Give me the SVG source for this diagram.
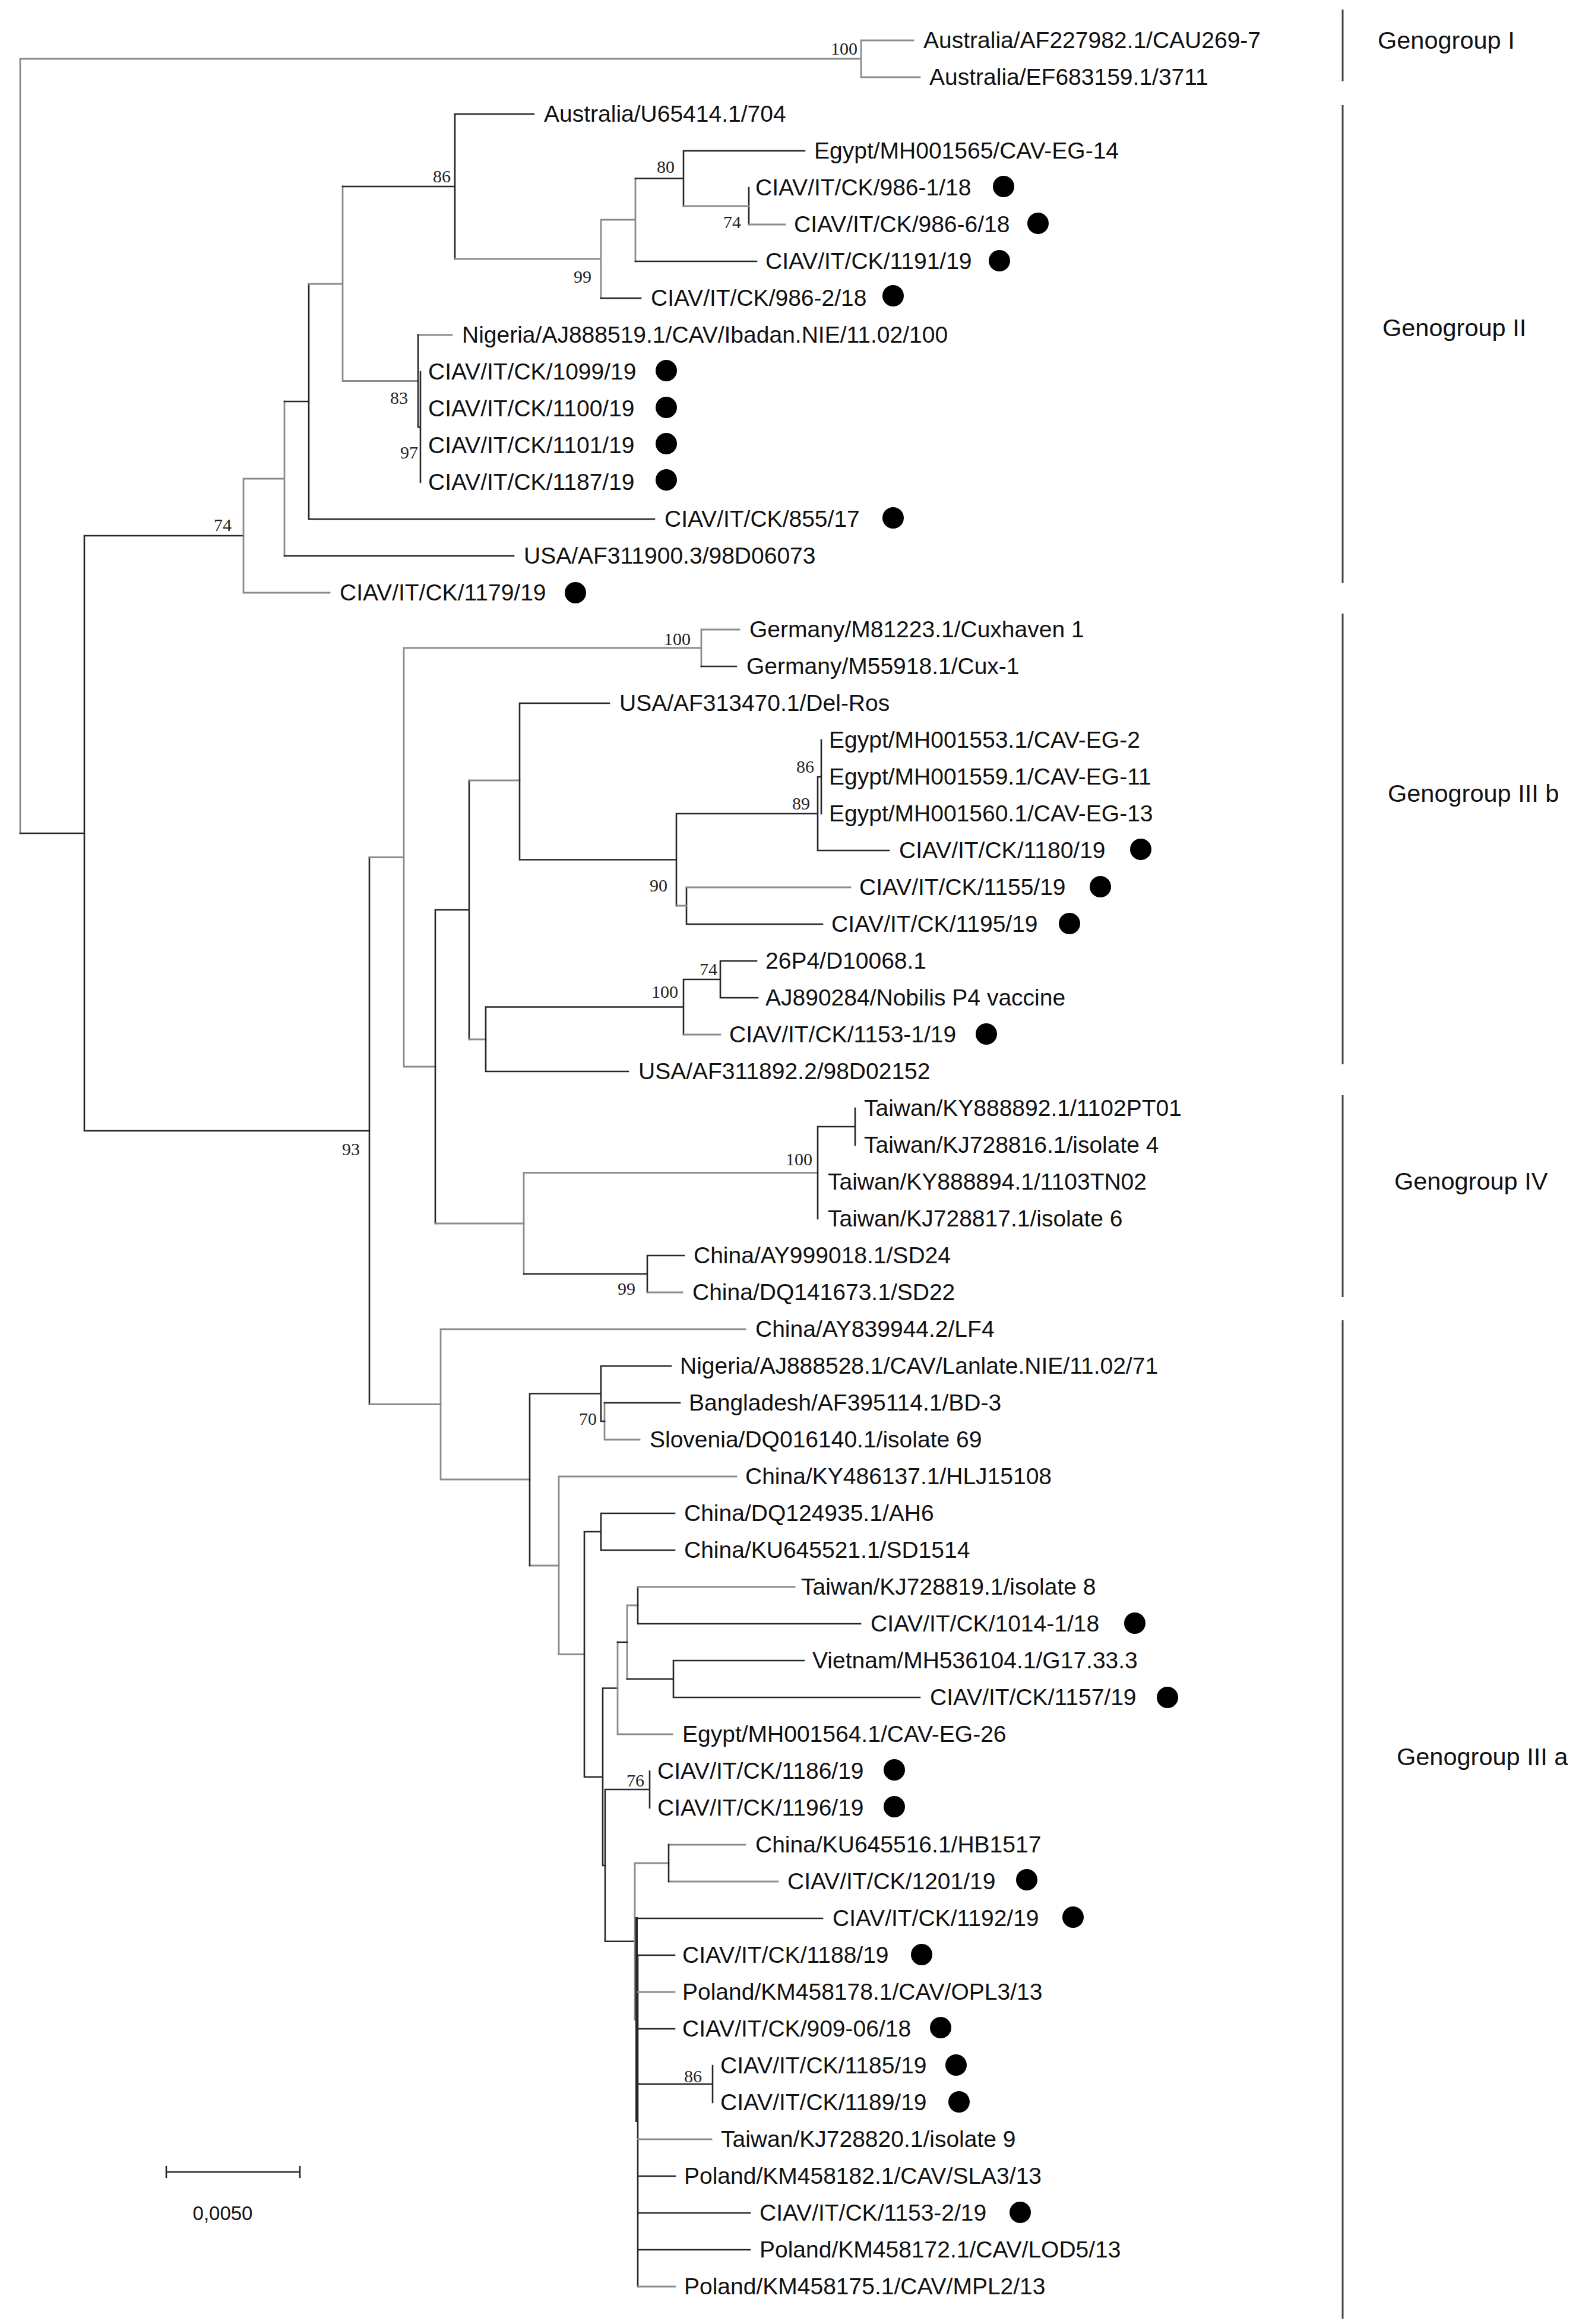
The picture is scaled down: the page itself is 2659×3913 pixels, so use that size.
<svg xmlns="http://www.w3.org/2000/svg" width="2659" height="3913" viewBox="0 0 2659 3913">
<style>
.k{stroke:#262626;stroke-width:2.6;fill:none;stroke-linecap:square}
.g{stroke:#8c8c8c;stroke-width:2.8;fill:none;stroke-linecap:square}
.bar{stroke:#444;stroke-width:3;fill:none}
.lb{font-family:"Liberation Sans",Arial,sans-serif;font-size:39px;fill:#111}
.gg{font-family:"Liberation Sans",Arial,sans-serif;font-size:41.5px;fill:#111}
.bs{font-family:"Liberation Serif","Times New Roman",serif;font-size:30px;fill:#222;text-anchor:end}
.dot{fill:#000}
</style>
<rect width="2659" height="3913" fill="#fff"/>
<g id="connectors">
<path class="g" d="M34 99V1403M34 99H1450M1450 68V130M1450 68H1538M1450 130H1549"/>
<path class="k" d="M34 1403H142M142 902V1904M142 902H410M142 1904H622"/>
<path class="g" d="M410 806V998M410 806H479M410 998H555M479 676V936"/>
<path class="k" d="M479 676H520M479 936H865M520 478V874M520 874H1102"/>
<path class="g" d="M520 478H577M577 314V641.5M577 641.5H704"/>
<path class="k" d="M577 314H766M766 192V436M766 192H899"/>
<path class="g" d="M766 436H1012M1012 370V502M1012 370H1070M1070 300.5V440"/>
<path class="k" d="M1012 502H1079M1070 440H1274M1070 300.5H1151M1151 254V347M1151 254H1355M1261 316V378"/>
<path class="g" d="M1151 347H1261M1261 378H1322M704 564H761"/>
<path class="k" d="M704 564V719M704 719H708M708 626V812"/>
<path class="k" d="M622 1443.5V2364.5"/>
<path class="g" d="M622 1443.5H680M622 2364.5H742M680 1091V1796M680 1091H1181M680 1796H733M1181 1060V1122M1181 1060H1245"/>
<path class="k" d="M1181 1122H1240M733 1532V2060M733 1532H790M790 1314V1750"/>
<path class="g" d="M733 2060H882M790 1314H875M790 1750H818"/>
<path class="k" d="M875 1184V1447.5M875 1184H1026M875 1447.5H1139M1139 1370V1525M1139 1370H1377M1377 1308V1432M1377 1308H1383M1377 1432H1497M1383 1246V1370M1156 1494V1556M1156 1556H1385"/>
<path class="g" d="M1139 1525H1156M1156 1494H1432"/>
<path class="k" d="M818 1695.5V1804M818 1695.5H1151M818 1804H1058M1151 1649V1742M1151 1649H1213M1213 1618V1680M1213 1618H1274M1213 1680H1276"/>
<path class="g" d="M1151 1742H1213M882 1974.5V2145M882 1974.5H1377"/>
<path class="k" d="M882 2145H1090M1377 1897V2052M1377 1897H1440M1440 1866V1928M1090 2114V2176M1090 2114H1152"/>
<path class="g" d="M1090 2176H1149"/>
<path class="g" d="M742 2238V2491M742 2238H1255M742 2491H892M892 2636H941M1018 2362V2424M1018 2424H1077"/>
<path class="k" d="M892 2346.5V2636M892 2346.5H1012M1012 2300V2393M1012 2300H1130M1012 2393H1018M1018 2362H1145"/>
<path class="g" d="M941 2486V2785.5M941 2486H1240M941 2785.5H984"/>
<path class="k" d="M984 2579V2992M984 2579H1012M984 2992H1015M1012 2548V2610M1012 2548H1136M1012 2610H1136M1015 2842.5V3141M1015 2842.5H1040M1015 3141H1019"/>
<path class="g" d="M1040 2765V2920M1040 2920H1132M1056 2703V2827M1056 2703H1074"/>
<path class="k" d="M1040 2765H1056M1056 2827H1134M1074 2672V2734M1074 2734H1449M1134 2796V2858M1134 2796H1354M1134 2858H1549"/>
<path class="g" d="M1074 2672H1338"/>
<path class="k" d="M1019 3013V3268.75M1019 3013H1094M1019 3268.75H1069M1094 2982V3044"/>
<path class="g" d="M1069 3137V3400.5M1069 3137H1126M1069 3400.5H1072M1126 3106H1255M1126 3168H1310"/>
<path class="k" d="M1126 3106V3168"/>
<path class="k" style="stroke-width:4" d="M1072 3230V3571"/>
<path class="k" d="M1072 3230H1385M1072 3571H1074M1074 3292V3850M1074 3292H1136M1074 3416H1136M1074 3509H1200M1200 3478V3540M1074 3664H1137M1074 3726H1263M1074 3788H1263"/>
<path class="g" d="M1074 3354H1136M1074 3602H1198M1074 3850H1137"/>
</g>
<g id="support">
<text class="bs" x="1444" y="92">100</text>
<text class="bs" x="759" y="307">86</text>
<text class="bs" x="1136" y="291">80</text>
<text class="bs" x="1248" y="384">74</text>
<text class="bs" x="996" y="476">99</text>
<text class="bs" x="687" y="680">83</text>
<text class="bs" x="704" y="772">97</text>
<text class="bs" x="390" y="894">74</text>
<text class="bs" x="606" y="1945">93</text>
<text class="bs" x="1163" y="1086">100</text>
<text class="bs" x="1371" y="1301">86</text>
<text class="bs" x="1364" y="1363">89</text>
<text class="bs" x="1124" y="1501">90</text>
<text class="bs" x="1208" y="1642">74</text>
<text class="bs" x="1142" y="1680">100</text>
<text class="bs" x="1368" y="1962">100</text>
<text class="bs" x="1070" y="2180">99</text>
<text class="bs" x="1005" y="2399">70</text>
<text class="bs" x="1085" y="3008">76</text>
<text class="bs" x="1182" y="3506">86</text>
</g>
<g id="leaf01"><text class="lb" x="1555" y="81">Australia/AF227982.1/CAU269-7</text></g>
<g id="leaf02"><text class="lb" x="1565" y="143">Australia/EF683159.1/3711</text></g>
<g id="leaf03"><text class="lb" x="916" y="205">Australia/U65414.1/704</text></g>
<g id="leaf04"><text class="lb" x="1371" y="267">Egypt/MH001565/CAV-EG-14</text></g>
<g id="leaf05"><text class="lb" x="1272" y="329">CIAV/IT/CK/986-1/18</text><circle class="dot" cx="1690" cy="314" r="18"/></g>
<g id="leaf06"><text class="lb" x="1337" y="391">CIAV/IT/CK/986-6/18</text><circle class="dot" cx="1748" cy="376" r="18"/></g>
<g id="leaf07"><text class="lb" x="1289" y="453">CIAV/IT/CK/1191/19</text><circle class="dot" cx="1683" cy="439" r="18"/></g>
<g id="leaf08"><text class="lb" x="1096" y="515">CIAV/IT/CK/986-2/18</text><circle class="dot" cx="1504" cy="498" r="18"/></g>
<g id="leaf09"><text class="lb" x="778" y="577">Nigeria/AJ888519.1/CAV/Ibadan.NIE/11.02/100</text></g>
<g id="leaf10"><text class="lb" x="721" y="639">CIAV/IT/CK/1099/19</text><circle class="dot" cx="1122" cy="624" r="18"/></g>
<g id="leaf11"><text class="lb" x="721" y="701">CIAV/IT/CK/1100/19</text><circle class="dot" cx="1122" cy="686" r="18"/></g>
<g id="leaf12"><text class="lb" x="721" y="763">CIAV/IT/CK/1101/19</text><circle class="dot" cx="1122" cy="747" r="18"/></g>
<g id="leaf13"><text class="lb" x="721" y="825">CIAV/IT/CK/1187/19</text><circle class="dot" cx="1122" cy="808" r="18"/></g>
<g id="leaf14"><text class="lb" x="1119" y="887">CIAV/IT/CK/855/17</text><circle class="dot" cx="1504" cy="872" r="18"/></g>
<g id="leaf15"><text class="lb" x="882" y="949">USA/AF311900.3/98D06073</text></g>
<g id="leaf16"><text class="lb" x="572" y="1011">CIAV/IT/CK/1179/19</text><circle class="dot" cx="969" cy="998" r="18"/></g>
<g id="leaf17"><text class="lb" x="1262" y="1073">Germany/M81223.1/Cuxhaven 1</text></g>
<g id="leaf18"><text class="lb" x="1257" y="1135">Germany/M55918.1/Cux-1</text></g>
<g id="leaf19"><text class="lb" x="1043" y="1197">USA/AF313470.1/Del-Ros</text></g>
<g id="leaf20"><text class="lb" x="1396" y="1259">Egypt/MH001553.1/CAV-EG-2</text></g>
<g id="leaf21"><text class="lb" x="1396" y="1321">Egypt/MH001559.1/CAV-EG-11</text></g>
<g id="leaf22"><text class="lb" x="1396" y="1383">Egypt/MH001560.1/CAV-EG-13</text></g>
<g id="leaf23"><text class="lb" x="1514" y="1445">CIAV/IT/CK/1180/19</text><circle class="dot" cx="1921" cy="1430" r="18"/></g>
<g id="leaf24"><text class="lb" x="1447" y="1507">CIAV/IT/CK/1155/19</text><circle class="dot" cx="1853" cy="1493" r="18"/></g>
<g id="leaf25"><text class="lb" x="1400" y="1569">CIAV/IT/CK/1195/19</text><circle class="dot" cx="1801" cy="1555" r="18"/></g>
<g id="leaf26"><text class="lb" x="1289" y="1631">26P4/D10068.1</text></g>
<g id="leaf27"><text class="lb" x="1289" y="1693">AJ890284/Nobilis P4 vaccine</text></g>
<g id="leaf28"><text class="lb" x="1228" y="1755">CIAV/IT/CK/1153-1/19</text><circle class="dot" cx="1661" cy="1741" r="18"/></g>
<g id="leaf29"><text class="lb" x="1075" y="1817">USA/AF311892.2/98D02152</text></g>
<g id="leaf30"><text class="lb" x="1455" y="1879">Taiwan/KY888892.1/1102PT01</text></g>
<g id="leaf31"><text class="lb" x="1455" y="1941">Taiwan/KJ728816.1/isolate 4</text></g>
<g id="leaf32"><text class="lb" x="1394" y="2003">Taiwan/KY888894.1/1103TN02</text></g>
<g id="leaf33"><text class="lb" x="1394" y="2065">Taiwan/KJ728817.1/isolate 6</text></g>
<g id="leaf34"><text class="lb" x="1168" y="2127">China/AY999018.1/SD24</text></g>
<g id="leaf35"><text class="lb" x="1166" y="2189">China/DQ141673.1/SD22</text></g>
<g id="leaf36"><text class="lb" x="1272" y="2251">China/AY839944.2/LF4</text></g>
<g id="leaf37"><text class="lb" x="1145" y="2313">Nigeria/AJ888528.1/CAV/Lanlate.NIE/11.02/71</text></g>
<g id="leaf38"><text class="lb" x="1160" y="2375">Bangladesh/AF395114.1/BD-3</text></g>
<g id="leaf39"><text class="lb" x="1094" y="2437">Slovenia/DQ016140.1/isolate 69</text></g>
<g id="leaf40"><text class="lb" x="1255" y="2499">China/KY486137.1/HLJ15108</text></g>
<g id="leaf41"><text class="lb" x="1152" y="2561">China/DQ124935.1/AH6</text></g>
<g id="leaf42"><text class="lb" x="1152" y="2623">China/KU645521.1/SD1514</text></g>
<g id="leaf43"><text class="lb" x="1349" y="2685">Taiwan/KJ728819.1/isolate 8</text></g>
<g id="leaf44"><text class="lb" x="1466" y="2747">CIAV/IT/CK/1014-1/18</text><circle class="dot" cx="1911" cy="2733" r="18"/></g>
<g id="leaf45"><text class="lb" x="1368" y="2809">Vietnam/MH536104.1/G17.33.3</text></g>
<g id="leaf46"><text class="lb" x="1566" y="2871">CIAV/IT/CK/1157/19</text><circle class="dot" cx="1966" cy="2858" r="18"/></g>
<g id="leaf47"><text class="lb" x="1149" y="2933">Egypt/MH001564.1/CAV-EG-26</text></g>
<g id="leaf48"><text class="lb" x="1107" y="2995">CIAV/IT/CK/1186/19</text><circle class="dot" cx="1506" cy="2980" r="18"/></g>
<g id="leaf49"><text class="lb" x="1107" y="3057">CIAV/IT/CK/1196/19</text><circle class="dot" cx="1506" cy="3042" r="18"/></g>
<g id="leaf50"><text class="lb" x="1272" y="3119">China/KU645516.1/HB1517</text></g>
<g id="leaf51"><text class="lb" x="1326" y="3181">CIAV/IT/CK/1201/19</text><circle class="dot" cx="1729" cy="3165" r="18"/></g>
<g id="leaf52"><text class="lb" x="1402" y="3243">CIAV/IT/CK/1192/19</text><circle class="dot" cx="1807" cy="3228" r="18"/></g>
<g id="leaf53"><text class="lb" x="1149" y="3305">CIAV/IT/CK/1188/19</text><circle class="dot" cx="1552" cy="3291" r="18"/></g>
<g id="leaf54"><text class="lb" x="1149" y="3367">Poland/KM458178.1/CAV/OPL3/13</text></g>
<g id="leaf55"><text class="lb" x="1149" y="3429">CIAV/IT/CK/909-06/18</text><circle class="dot" cx="1584" cy="3414" r="18"/></g>
<g id="leaf56"><text class="lb" x="1213" y="3491">CIAV/IT/CK/1185/19</text><circle class="dot" cx="1610" cy="3477" r="18"/></g>
<g id="leaf57"><text class="lb" x="1213" y="3553">CIAV/IT/CK/1189/19</text><circle class="dot" cx="1615" cy="3539" r="18"/></g>
<g id="leaf58"><text class="lb" x="1214" y="3615">Taiwan/KJ728820.1/isolate 9</text></g>
<g id="leaf59"><text class="lb" x="1152" y="3677">Poland/KM458182.1/CAV/SLA3/13</text></g>
<g id="leaf60"><text class="lb" x="1279" y="3739">CIAV/IT/CK/1153-2/19</text><circle class="dot" cx="1718" cy="3725" r="18"/></g>
<g id="leaf61"><text class="lb" x="1279" y="3801">Poland/KM458172.1/CAV/LOD5/13</text></g>
<g id="leaf62"><text class="lb" x="1152" y="3863">Poland/KM458175.1/CAV/MPL2/13</text></g>
<g id="genogroup-I"><path class="bar" d="M2261 16V137"/><text class="gg" x="2320" y="82">Genogroup I</text></g>
<g id="genogroup-II"><path class="bar" d="M2261 177V982"/><text class="gg" x="2328" y="566">Genogroup II</text></g>
<g id="genogroup-IIIb"><path class="bar" d="M2261 1033V1792"/><text class="gg" x="2337" y="1350">Genogroup III b</text></g>
<g id="genogroup-IV"><path class="bar" d="M2261 1844V2184"/><text class="gg" x="2348" y="2003">Genogroup IV</text></g>
<g id="genogroup-IIIa"><path class="bar" d="M2261 2223V3904"/><text class="gg" x="2352" y="2972">Genogroup III a</text></g>
<g id="scale-bar"><path class="k" d="M280 3657H505M280 3648V3666M505 3648V3666"/><text x="375" y="3738" text-anchor="middle" style="font-family:'Liberation Sans',Arial,sans-serif;font-size:33px;fill:#111">0,0050</text></g>
</svg>
